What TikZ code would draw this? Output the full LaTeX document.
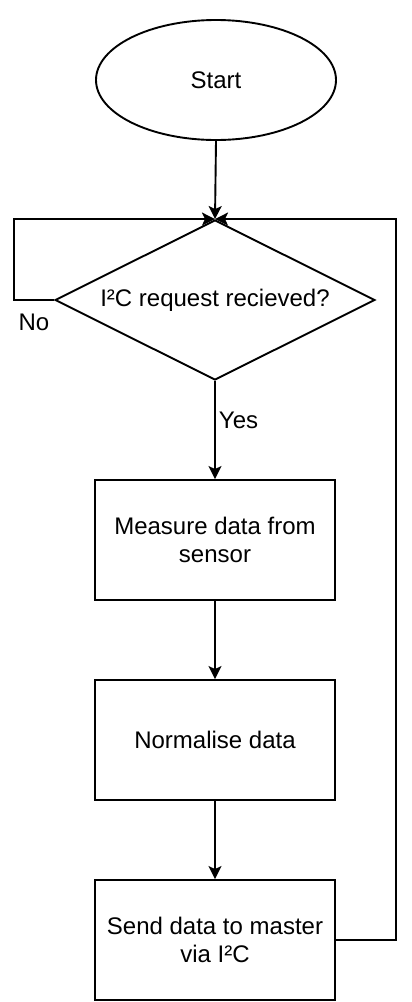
\documentclass[tikz,border=0pt]{standalone}
\usepackage{fontspec}
\setmainfont{Liberation Sans}
\usetikzlibrary{shapes.geometric,arrows.meta}
\begin{document}
\begin{tikzpicture}[x=1pt,y=-1pt, line width=1.9pt,
  font=\fontsize{24}{28}\selectfont,
  proc/.style={draw, minimum width=240pt, minimum height=120pt, align=center, inner sep=0pt},
  arr/.style={-{Stealth[length=13pt,width=13pt,inset=3pt]}}]
\useasboundingbox (0,0) rectangle (412,1002);
\node[ellipse, draw, minimum width=240pt, minimum height=120pt, inner sep=0pt] (s) at (216,80) {Start};
\node[diamond, draw, minimum width=320pt, minimum height=160pt, inner sep=0pt, aspect=2] (d) at (215,300) {I²C request recieved?};
\node[proc] (b1) at (215,540) {Measure data from\\sensor};
\node[proc] (b2) at (215,740) {Normalise data};
\node[proc] (b3) at (215,940) {Send data to master\\via I²C};
\node (no) at (34,322) {No};
\node[anchor=west, inner sep=0pt] (yes) at (218,420) {Yes};
\draw[arr] (s.south) -- (d.north);
\draw[arr] (d.south) -- (b1.north);
\draw[arr] (b1.south) -- (b2.north);
\draw[arr] (b2.south) -- (b3.north);
\draw[arr] (d.west) -- ++(-40,0) |- (d.north);
\draw[arr] (b3.east) -- ++(60,0) |- (d.north);
\end{tikzpicture}
\end{document}
